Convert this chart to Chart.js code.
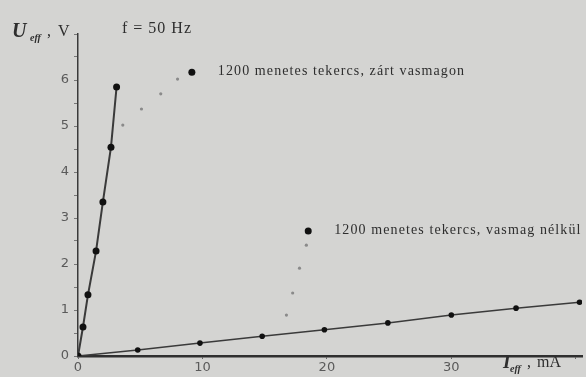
<!DOCTYPE html>
<html>
<head>
<meta charset="utf-8">
<script src="https://cdn.jsdelivr.net/npm/chart.js@4"></script>
<style>
  html, body { margin: 0; padding: 0; background: #d4d4d2; }
  #wrap { width: 586px; height: 377px; }
</style>
</head>
<body>
<div id="wrap"><canvas id="chart" width="586" height="377"></canvas></div>
<script>
// 1200 menetes tekercs, zárt vasmagon (closed iron core)
const coreI = [0, 0.4, 0.8, 1.45, 2.0, 2.65, 3.1];
const coreU = [0, 0.63, 1.33, 2.28, 3.35, 4.54, 5.85];

// 1200 menetes tekercs, vasmag nélkül (no core)
const airI = [0, 4.8, 9.8, 14.8, 19.8, 24.9, 30, 35.2, 40.3];
const airU = [0, 0.13, 0.28, 0.43, 0.57, 0.72, 0.89, 1.04, 1.17];

// dotted leaders from the labels to the curves
const leader1I = [3.6, 5.1, 6.65, 8.0];
const leader1U = [5.02, 5.37, 5.7, 6.02];
const leader2I = [16.75, 17.25, 17.8, 18.35];
const leader2U = [0.89, 1.37, 1.91, 2.41];

// label bullets and texts
const labelI = [9.15, 18.5];
const labelU = [6.17, 2.72];
const labelText = ["1200 menetes tekercs, zárt vasmagon", "1200 menetes tekercs, vasmag nélkül"];

const xTicks = [0, 10, 20, 30];
const yTicks = [0, 1, 2, 3, 4, 5, 6];

const pts = (xs, ys) => xs.map((x, i) => ({ x: x, y: ys[i] }));

const textPlugin = {
  id: "texts",
  afterDraw: chart => {
    const ctx = chart.ctx;
    const xs = chart.scales.x, ys = chart.scales.y;
    ctx.save();
    ctx.fillStyle = "#2e2e2e";
    ctx.textBaseline = "alphabetic";

    // y axis title
    ctx.font = "italic bold 20px 'Liberation Serif'";
    ctx.fillText("U", 12, 37);
    ctx.font = "italic bold 10px 'Liberation Serif'";
    ctx.fillText("eff", 30, 41);
    ctx.font = "16px 'Liberation Serif'";
    ctx.fillText(",", 47, 36);
    ctx.fillText("V", 58, 36);

    // frequency
    ctx.letterSpacing = "1px";
    ctx.font = "16px 'Liberation Serif'";
    ctx.fillText("f = 50 Hz", 122, 33);

    // x axis title
    ctx.letterSpacing = "0px";
    ctx.font = "italic bold 19px 'Liberation Serif'";
    ctx.fillText("I", 503, 368);
    ctx.font = "italic bold 10px 'Liberation Serif'";
    ctx.fillText("eff", 510, 372);
    ctx.font = "16px 'Liberation Serif'";
    ctx.fillText(",", 527, 367);
    ctx.fillText("mA", 537, 367);

    // curve labels
    ctx.letterSpacing = "1.1px";
    ctx.font = "14px 'Liberation Serif'";
    labelText.forEach((t, i) => {
      const px = xs.getPixelForValue(labelI[i]);
      const py = ys.getPixelForValue(labelU[i]);
      ctx.fillText(t, px + 26, py + 3);
    });
    ctx.restore();
  }
};

new Chart(document.getElementById("chart"), {
  type: "scatter",
  data: {
    datasets: [
      {
        data: pts(coreI, coreU),
        showLine: true,
        borderColor: "#3a3a3a",
        borderWidth: 2,
        pointRadius: 3.5,
        pointBackgroundColor: "#111",
        pointBorderWidth: 0
      },
      {
        data: pts(airI, airU),
        showLine: true,
        borderColor: "#3a3a3a",
        borderWidth: 1.5,
        pointRadius: 2.8,
        pointBackgroundColor: "#111",
        pointBorderWidth: 0
      },
      {
        data: pts(leader1I, leader1U).concat(pts(leader2I, leader2U)),
        pointRadius: 1.6,
        pointBackgroundColor: "#8a8a8a",
        pointBorderWidth: 0
      },
      {
        data: pts(labelI, labelU),
        pointRadius: 3.5,
        pointBackgroundColor: "#111",
        pointBorderWidth: 0
      }
    ]
  },
  options: {
    responsive: false,
    animation: false,
    layout: { padding: { top: 34, right: 3, left: 0, bottom: 0 } },
    plugins: {
      legend: { display: false },
      tooltip: { enabled: false }
    },
    scales: {
      x: {
        type: "linear",
        min: 0,
        max: 40.5,
        afterFit: s => { s.height = 21; },
        border: { color: "#2f2f2f", width: 2.5 },
        grid: { drawOnChartArea: false, tickLength: 3, color: "#666" },
        ticks: {
          stepSize: 10,
          includeBounds: false,
          padding: 1,
          color: "#5a5a5a",
          font: { family: "DejaVu Sans", size: 13 },
          callback: v => xTicks.includes(v) ? v : ""
        }
      },
      y: {
        type: "linear",
        min: 0,
        max: 7,
        afterFit: s => { s.width = 78; },
        border: { color: "#3a3a3a", width: 1.5 },
        grid: { drawOnChartArea: false, tickLength: 4, color: "#777" },
        ticks: {
          stepSize: 0.5,
          autoSkip: false,
          includeBounds: false,
          padding: 5,
          color: "#5a5a5a",
          font: { family: "DejaVu Sans", size: 13 },
          callback: v => yTicks.includes(v) ? v : ""
        }
      }
    }
  },
  plugins: [textPlugin]
});
</script>
</body>
</html>
